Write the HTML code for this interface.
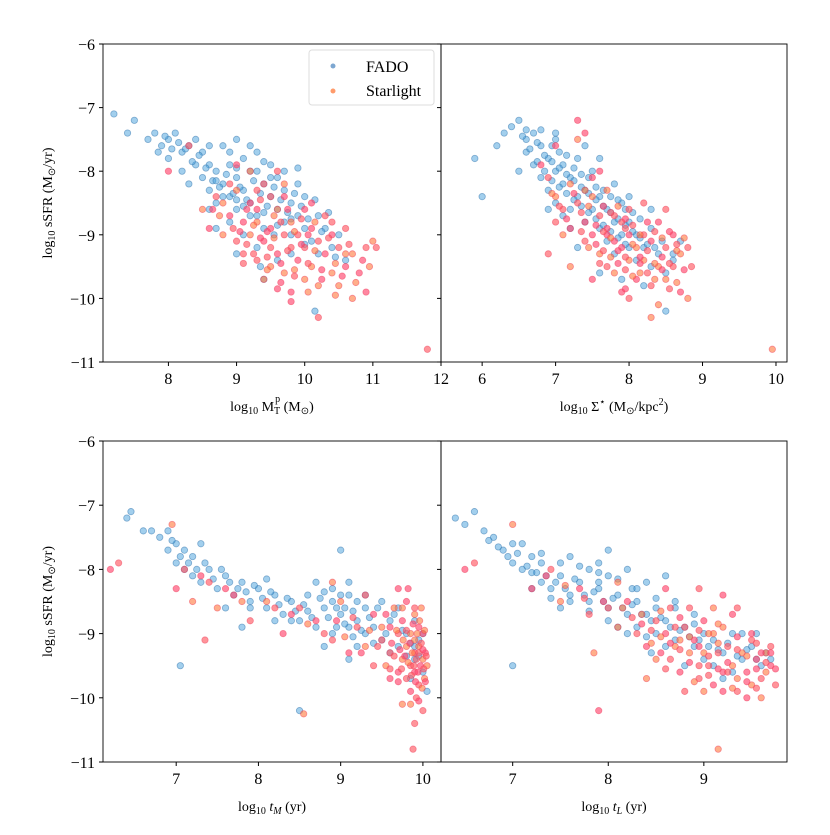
<!DOCTYPE html>
<html><head><meta charset="utf-8"><style>
body{margin:0;background:#fff;}
svg text{font-family:"Liberation Serif",serif;fill:#000;}
</style></head><body>
<svg id="chart" width="830" height="830" viewBox="0 0 830 830" xmlns="http://www.w3.org/2000/svg"></svg>
<script>
const fadoMass=[[7.2,-7.1],[7.4,-7.4],[7.5,-7.2],[7.7,-7.5],[7.8,-7.4],[7.9,-7.6],[8.0,-7.5],[8.0,-7.8],[8.1,-7.4],[8.2,-7.7],[8.2,-8.0],[8.3,-7.6],[8.3,-8.2],[8.4,-7.9],[8.4,-7.5],[8.5,-8.1],[8.5,-7.7],[8.6,-8.3],[8.6,-7.9],[8.7,-8.0],[8.7,-8.5],[8.8,-7.6],[8.8,-8.2],[8.9,-8.4],[8.9,-7.9],[9.0,-8.1],[9.0,-8.6],[9.0,-7.5],[9.1,-8.3],[9.1,-7.8],[9.2,-8.5],[9.2,-8.0],[9.3,-8.7],[9.3,-7.7],[9.4,-8.2],[9.4,-8.9],[9.5,-8.4],[9.5,-7.9],[9.6,-8.6],[9.6,-8.1],[9.7,-8.8],[9.7,-8.3],[9.8,-9.0],[9.8,-8.5],[9.9,-8.7],[9.9,-8.2],[10.0,-8.9],[10.0,-8.4],[10.1,-9.1],[10.2,-8.7],[10.2,-9.3],[10.3,-8.9],[10.4,-9.2],[10.5,-9.0],[10.6,-9.4],[10.15,-10.2],[9.4,-9.7],[8.9,-8.8],[9.1,-9.0],[8.7,-8.9],[9.3,-9.2],[9.6,-9.4],
[8.55,-7.95],[8.65,-8.15],[8.75,-8.25],[8.85,-8.05],[8.95,-8.35],[9.05,-8.25],[9.15,-8.45],[9.25,-8.15],[9.35,-8.35],[9.45,-8.55],[9.55,-8.25],[9.65,-8.45],[9.75,-8.65],[9.85,-8.35],[9.95,-8.55],[10.05,-8.75],[10.15,-8.45],[10.25,-8.95],[10.35,-8.65],[8.45,-7.75],[8.35,-7.85],[8.25,-7.65],[8.15,-7.55],[8.05,-7.65],[7.95,-7.45],[7.85,-7.7],[8.6,-7.6],[8.9,-7.7],[9.2,-7.6],[9.4,-7.85],[9.7,-8.0],[9.0,-8.45],[9.2,-8.7],[9.4,-8.65],[9.6,-8.85],[9.8,-8.75],[9.3,-8.0],[9.5,-8.1],[8.8,-8.4],[9.1,-8.55],[8.7,-8.15],[9.0,-7.95],[9.55,-9.0],[10.0,-9.15],[10.45,-9.35],[8.6,-8.6],[9.8,-9.3],[9.35,-9.5],[9.0,-9.3],[9.9,-7.95]];
const starMass=[[8.0,-8.0],[8.3,-7.6],[8.5,-8.6],[8.6,-8.9],[8.7,-8.4],[8.8,-9.0],[8.9,-8.7],[9.0,-9.1],[9.0,-8.3],[9.1,-8.8],[9.1,-9.3],[9.2,-9.0],[9.2,-8.5],[9.3,-9.4],[9.3,-8.8],[9.4,-9.1],[9.4,-8.2],[9.5,-9.5],[9.5,-8.9],[9.5,-9.2],[9.6,-8.6],[9.6,-9.3],[9.7,-9.0],[9.7,-9.6],[9.7,-8.4],[9.8,-9.2],[9.8,-8.8],[9.9,-9.4],[9.9,-9.0],[10.0,-9.7],[10.0,-8.6],[10.0,-9.2],[10.1,-9.5],[10.1,-8.9],[10.2,-9.1],[10.2,-9.8],[10.3,-9.3],[10.3,-8.7],[10.4,-9.6],[10.4,-9.0],[10.5,-9.2],[10.5,-9.8],[10.6,-9.5],[10.6,-8.9],[10.7,-9.3],[10.8,-9.6],[10.9,-9.2],[11.0,-9.1],[10.9,-9.9],[10.2,-10.3],[9.2,-8.0],[9.0,-7.9],[8.9,-8.2],[9.4,-9.7],[9.8,-9.9],[9.6,-8.0],[8.8,-8.5],[9.3,-8.6],[11.8,-10.8],[10.7,-10.0],
[9.05,-8.95],[9.15,-9.15],[9.25,-8.85],[9.35,-9.05],[9.45,-9.35],[9.55,-9.05],[9.65,-9.45],[9.75,-9.25],[9.85,-9.55],[9.95,-9.15],[10.05,-9.45],[10.15,-9.25],[10.25,-9.55],[10.35,-9.05],[10.45,-9.45],[10.55,-9.65],[10.65,-9.15],[10.75,-9.75],[9.15,-8.6],[9.35,-8.45],[9.55,-8.7],[9.75,-8.6],[9.95,-8.75],[10.15,-8.8],[9.45,-8.95],[9.65,-8.8],[9.85,-8.95],[10.05,-9.0],[9.25,-9.3],[9.45,-9.55],[9.65,-9.75],[9.85,-9.65],[10.05,-9.9],[10.25,-9.7],[8.95,-8.9],[8.75,-8.7],[8.65,-8.6],[9.1,-9.45],[10.45,-9.95],[10.85,-9.4],[11.05,-9.2],[10.95,-9.5],[9.6,-9.85],[9.3,-8.3],[9.7,-8.2],[10.1,-8.5],[10.4,-8.8],[10.6,-9.3],[9.8,-10.05],[9.5,-8.4]];
const fadoSigma=[[5.9,-7.8],[6.2,-7.6],[6.0,-8.4],[6.3,-7.4],[6.4,-7.3],[6.5,-7.2],[6.6,-7.7],[6.6,-7.5],[6.7,-7.9],[6.7,-7.4],[6.8,-8.1],[6.8,-7.6],[6.9,-8.3],[6.9,-7.8],[7.0,-8.0],[7.0,-8.5],[7.0,-7.5],[7.1,-8.2],[7.1,-7.9],[7.2,-8.6],[7.2,-8.1],[7.3,-8.4],[7.3,-7.8],[7.4,-8.8],[7.4,-8.3],[7.5,-8.6],[7.5,-8.0],[7.6,-8.9],[7.6,-8.4],[7.7,-9.1],[7.7,-8.6],[7.8,-8.8],[7.8,-9.3],[7.9,-9.0],[7.9,-8.5],[8.0,-9.2],[8.0,-8.8],[8.1,-9.4],[8.1,-9.0],[8.2,-9.2],[8.3,-9.5],[8.3,-8.9],[8.4,-9.3],[8.5,-9.6],[8.6,-9.4],[8.5,-10.2],[7.6,-9.6],[7.2,-8.9],[6.9,-8.6],[7.4,-7.6],[7.6,-7.8],[8.0,-8.4],[8.7,-9.1],[7.1,-8.7],[7.9,-9.7],[8.3,-8.6],[6.5,-8.0],[7.3,-9.2],[7.8,-8.2],[8.2,-9.8],
[6.55,-7.45],[6.65,-7.65],[6.75,-7.55],[6.85,-7.75],[6.95,-7.85],[7.05,-7.95],[7.15,-8.05],[7.25,-8.15],[7.35,-8.25],[7.45,-8.35],[7.55,-8.45],[7.65,-8.55],[7.75,-8.65],[7.85,-8.75],[7.95,-8.85],[8.05,-8.95],[8.15,-9.05],[8.25,-9.15],[6.75,-7.85],[6.85,-8.0],[6.95,-8.15],[7.05,-8.25],[7.15,-8.35],[7.25,-8.45],[7.35,-8.55],[7.45,-8.65],[7.55,-8.75],[7.65,-8.85],[7.75,-8.95],[7.85,-9.05],[7.95,-9.15],[6.95,-7.6],[7.05,-7.7],[7.15,-7.75],[7.25,-7.95],[7.35,-8.05],[7.45,-8.1],[7.55,-8.25],[7.65,-8.3],[7.75,-8.4],[7.85,-8.45],[7.95,-8.6],[8.05,-8.65],[8.15,-8.75],[6.6,-7.35],[6.8,-7.35],[7.0,-7.4],[8.35,-9.2],[8.45,-9.1],[8.6,-9.3]];
const starSigma=[[6.8,-7.9],[6.9,-8.1],[7.0,-8.4],[7.0,-7.6],[7.1,-8.6],[7.2,-8.2],[7.2,-8.9],[7.3,-8.5],[7.3,-7.5],[7.4,-8.8],[7.4,-9.1],[7.5,-8.4],[7.5,-9.0],[7.6,-8.7],[7.6,-9.3],[7.7,-8.9],[7.7,-9.5],[7.7,-8.3],[7.8,-9.1],[7.8,-8.7],[7.8,-9.6],[7.9,-9.2],[7.9,-8.8],[8.0,-9.4],[8.0,-9.0],[8.0,-8.6],[8.1,-9.2],[8.1,-9.7],[8.2,-9.0],[8.2,-9.4],[8.3,-9.1],[8.3,-9.8],[8.4,-9.5],[8.4,-8.8],[8.5,-9.2],[8.5,-9.7],[8.6,-9.0],[8.6,-9.5],[8.7,-9.3],[8.7,-9.9],[8.8,-9.2],[8.8,-10.0],[7.5,-9.7],[6.9,-9.3],[7.2,-9.5],[7.4,-7.4],[8.0,-10.0],[8.3,-10.3],[7.6,-8.0],[8.2,-8.5],[7.1,-9.0],[7.9,-9.9],[8.5,-8.6],[9.95,-10.8],[7.3,-7.2],[7.0,-8.8],[8.4,-10.1],[7.7,-9.0],[7.95,-8.9],[8.15,-9.6],
[7.25,-8.35],[7.35,-8.65],[7.45,-8.55],[7.55,-8.85],[7.65,-8.95],[7.75,-9.05],[7.85,-9.25],[7.95,-9.35],[8.05,-9.15],[8.15,-9.35],[8.25,-9.25],[8.35,-9.45],[8.45,-9.35],[8.55,-9.45],[8.65,-9.25],[7.55,-9.15],[7.65,-9.25],[7.75,-9.35],[7.85,-9.45],[7.95,-9.55],[8.05,-9.65],[8.15,-9.45],[8.25,-9.6],[8.35,-9.7],[8.45,-9.55],[7.35,-8.95],[7.45,-9.2],[7.15,-8.75],[7.05,-8.55],[6.95,-8.35],[7.65,-8.55],[7.75,-8.65],[7.85,-8.55],[7.95,-8.75],[8.05,-8.85],[8.15,-9.0],[8.25,-8.8],[8.35,-8.95],[8.45,-9.05],[8.55,-8.95],[8.65,-9.15],[8.75,-9.05],[8.75,-9.55],[8.55,-9.85],[8.65,-9.75],[7.95,-9.85],[7.6,-9.45],[7.4,-8.3],[7.5,-8.1],[8.85,-9.5]];
const fadoTM=[[6.4,-7.2],[6.45,-7.1],[6.6,-7.4],[6.7,-7.4],[6.8,-7.5],[6.9,-7.7],[6.9,-7.4],[7.0,-7.9],[7.0,-7.6],[7.1,-8.0],[7.1,-7.7],[7.2,-8.1],[7.2,-7.8],[7.3,-8.2],[7.4,-8.0],[7.5,-8.3],[7.6,-8.1],[7.7,-8.4],[7.8,-8.2],[7.9,-8.5],[8.0,-8.3],[8.1,-8.6],[8.2,-8.4],[8.3,-8.7],[8.4,-8.5],[8.5,-8.8],[8.6,-8.4],[8.7,-8.9],[8.8,-8.6],[8.9,-8.5],[8.9,-9.0],[9.0,-8.7],[9.0,-7.7],[9.1,-8.9],[9.1,-8.4],[9.2,-8.8],[9.2,-9.2],[9.3,-8.6],[9.3,-9.0],[9.4,-8.9],[9.5,-9.1],[9.6,-8.8],[9.7,-9.2],[9.8,-9.0],[9.9,-9.4],[9.95,-9.1],[10.0,-9.6],[7.05,-9.5],[8.5,-10.2],[7.8,-8.9],[8.7,-8.2],[9.1,-9.4],[8.8,-9.2],[7.6,-8.6],[8.2,-8.8],[9.5,-8.5],[9.85,-9.7],[9.9,-8.8],[10.05,-9.9],[7.3,-7.6],
[6.95,-7.55],[7.05,-7.8],[7.15,-7.9],[7.25,-8.0],[7.35,-7.9],[7.45,-8.15],[7.55,-8.0],[7.65,-8.2],[7.75,-8.3],[7.85,-8.35],[7.95,-8.25],[8.05,-8.45],[8.15,-8.35],[8.25,-8.55],[8.35,-8.45],[8.45,-8.65],[8.55,-8.55],[8.65,-8.75],[8.75,-8.45],[8.85,-8.75],[8.95,-8.6],[9.05,-8.85],[9.15,-8.65],[9.25,-8.95],[9.35,-8.75],[9.45,-8.6],[9.55,-9.0],[9.65,-8.7],[9.75,-8.95],[9.85,-9.15],[8.9,-8.3],[9.0,-8.4],[9.1,-8.2],[9.2,-8.5],[9.05,-8.6],[8.95,-8.9],[9.15,-9.05],[8.8,-8.35],[8.6,-8.65],[8.4,-8.8],[9.3,-8.4],[9.4,-9.15],[9.6,-9.3],[9.7,-8.6],[9.9,-9.2],[9.95,-9.35],[10.0,-9.0],[9.8,-9.35],[7.9,-8.6],[8.1,-8.15]];
const starTM=[[6.2,-8.0],[6.3,-7.9],[6.95,-7.3],[7.0,-8.3],[7.1,-8.0],[7.2,-8.5],[7.3,-8.1],[7.35,-9.1],[7.5,-8.6],[7.7,-8.4],[7.9,-8.8],[8.1,-8.5],[8.3,-9.0],[8.5,-8.6],[8.55,-10.25],[8.7,-8.8],[8.9,-9.1],[9.0,-8.5],[9.1,-9.3],[9.2,-8.9],[9.3,-9.2],[9.4,-8.7],[9.5,-9.1],[9.55,-9.5],[9.6,-8.9],[9.6,-9.3],[9.65,-8.6],[9.7,-9.6],[9.7,-9.0],[9.75,-9.4],[9.75,-8.8],[9.8,-9.7],[9.8,-9.2],[9.8,-8.5],[9.85,-9.5],[9.85,-9.0],[9.85,-9.9],[9.9,-9.3],[9.9,-8.7],[9.9,-9.6],[9.92,-10.0],[9.95,-9.2],[9.95,-8.9],[9.95,-9.8],[10.0,-9.4],[10.0,-9.0],[10.0,-10.2],[10.02,-9.7],[10.03,-9.3],[9.88,-10.8],[9.75,-10.1],[9.6,-9.7],[9.4,-9.5],[8.9,-8.2],[9.82,-8.3],[9.9,-10.4],[9.98,-8.6],[9.7,-8.3],[9.3,-8.4],[10.05,-9.5],
[9.62,-9.15],[9.65,-9.35],[9.68,-8.95],[9.72,-9.25],[9.74,-9.55],[9.76,-9.1],[9.78,-9.35],[9.8,-8.95],[9.82,-9.45],[9.84,-9.15],[9.86,-9.65],[9.87,-9.3],[9.88,-8.85],[9.89,-9.5],[9.9,-9.1],[9.91,-9.75],[9.92,-9.4],[9.93,-9.0],[9.94,-9.6],[9.95,-9.3],[9.96,-8.8],[9.97,-9.5],[9.98,-9.15],[9.99,-9.85],[10.0,-9.25],[10.01,-9.55],[10.02,-8.95],[10.03,-9.75],[10.04,-9.35],[9.5,-8.9],[9.55,-8.7],[9.45,-9.2],[9.35,-8.95],[9.25,-9.3],[9.15,-8.75],[9.05,-9.05],[8.95,-8.8],[8.8,-9.0],[8.6,-8.85],[8.4,-8.7],[8.2,-8.6],[7.8,-8.5],[7.6,-8.3],[7.4,-8.2],[9.85,-10.1],[9.95,-10.05],[9.9,-8.6],[9.75,-8.6],[9.7,-9.75],[9.6,-9.55]];
const fadoTL=[[6.4,-7.2],[6.6,-7.1],[6.7,-7.4],[6.8,-7.5],[6.9,-7.7],[7.0,-7.6],[7.0,-7.9],[7.1,-8.0],[7.2,-7.8],[7.3,-8.2],[7.3,-7.9],[7.4,-8.3],[7.5,-8.1],[7.6,-8.4],[7.6,-7.8],[7.7,-8.2],[7.8,-8.5],[7.9,-8.3],[7.9,-7.9],[8.0,-8.6],[8.0,-8.1],[8.1,-8.4],[8.2,-8.7],[8.2,-8.0],[8.3,-8.5],[8.3,-8.9],[8.4,-8.7],[8.4,-8.2],[8.5,-9.0],[8.5,-8.6],[8.6,-8.8],[8.7,-9.1],[8.7,-8.5],[8.8,-8.9],[8.9,-9.2],[8.9,-8.7],[9.0,-9.0],[9.0,-9.4],[9.1,-9.1],[9.2,-9.3],[9.3,-9.0],[9.4,-9.4],[9.5,-9.2],[9.6,-9.5],[9.7,-9.4],[7.0,-9.5],[7.9,-8.2],[8.6,-8.1],[8.1,-8.9],[8.8,-9.5],[9.2,-9.7],[7.5,-8.6],[8.25,-8.3],[9.3,-9.6],[8.0,-7.7],[7.2,-8.3],[8.45,-9.3],[9.55,-9.0],[6.5,-7.3],[7.8,-8.0],
[6.75,-7.55],[6.85,-7.65],[6.95,-7.8],[7.05,-7.75],[7.15,-7.95],[7.25,-8.05],[7.35,-8.1],[7.45,-8.2],[7.55,-8.3],[7.65,-8.15],[7.75,-8.4],[7.85,-8.35],[7.95,-8.5],[8.05,-8.45],[8.15,-8.6],[8.25,-8.55],[8.35,-8.7],[8.45,-8.8],[8.55,-8.75],[8.65,-8.9],[8.75,-8.95],[8.85,-9.05],[8.95,-9.1],[9.05,-9.2],[9.15,-9.25],[9.25,-9.15],[9.35,-9.35],[9.45,-9.25],[9.55,-9.4],[9.65,-9.3],[7.1,-7.6],[7.3,-7.75],[7.5,-7.9],[7.7,-7.95],[7.9,-8.05],[8.1,-8.15],[8.3,-8.3],[8.5,-8.45],[8.7,-8.6],[8.9,-8.85],[7.2,-8.05],[7.4,-8.45],[7.6,-8.5],[7.8,-8.65],[8.0,-8.8],[8.2,-9.0],[8.4,-9.05],[8.6,-9.2],[9.1,-9.5],[9.4,-9.0]];
const starTL=[[6.5,-8.0],[6.6,-7.9],[7.0,-7.3],[7.2,-8.3],[7.4,-8.0],[7.5,-8.5],[7.7,-8.3],[7.8,-8.7],[7.85,-9.3],[7.9,-10.2],[8.0,-8.6],[8.1,-8.9],[8.2,-8.5],[8.3,-9.0],[8.35,-8.7],[8.4,-9.2],[8.5,-8.8],[8.5,-9.4],[8.6,-9.0],[8.65,-8.6],[8.7,-9.2],[8.75,-9.6],[8.8,-8.9],[8.85,-9.3],[8.9,-9.1],[8.95,-9.7],[9.0,-9.3],[9.0,-8.8],[9.05,-9.5],[9.1,-9.0],[9.1,-9.8],[9.15,-9.3],[9.2,-8.9],[9.2,-9.6],[9.25,-9.2],[9.3,-9.5],[9.3,-8.7],[9.35,-9.9],[9.4,-9.3],[9.45,-9.6],[9.5,-9.1],[9.5,-9.8],[9.55,-9.4],[9.6,-9.7],[9.65,-9.3],[9.7,-9.5],[9.75,-9.8],[9.6,-10.0],[9.2,-8.4],[8.95,-8.3],[9.15,-10.8],[9.45,-10.0],[8.8,-9.9],[8.1,-8.2],[8.6,-8.3],[9.35,-8.6],[8.4,-9.7],[9.7,-9.3],[8.7,-8.9],[9.0,-9.9],
[8.35,-8.85],[8.45,-8.95],[8.55,-9.05],[8.65,-9.15],[8.75,-9.25],[8.85,-9.05],[8.95,-9.2],[9.05,-9.35],[9.15,-9.15],[9.25,-9.45],[9.35,-9.25],[9.45,-9.35],[9.55,-9.55],[9.65,-9.45],[8.45,-9.15],[8.55,-9.3],[8.65,-9.4],[8.75,-9.1],[8.85,-9.45],[8.95,-9.5],[9.05,-9.0],[9.15,-9.55],[9.25,-9.6],[9.35,-9.7],[9.45,-9.75],[9.55,-9.85],[8.55,-8.65],[8.75,-8.75],[8.95,-8.95],[9.15,-8.85],[9.35,-9.05],[9.55,-9.15],[9.65,-9.6],[9.75,-9.55],[8.25,-8.75],[8.15,-8.6],[7.95,-8.5],[7.75,-8.45],[7.55,-8.25],[7.35,-8.1],[9.05,-9.65],[9.3,-9.85],[9.6,-9.3],[8.85,-8.6],[9.1,-8.6],[9.5,-9.0],[8.6,-9.55],[8.9,-9.75],[9.2,-9.9],[9.7,-9.2]];
const yTicks=[-6,-7,-8,-9,-10,-11];
const xTicksMass=[8,9,10,11,12];
const xTicksSigma=[6,7,8,9,10];
const xTicksTM=[7,8,9,10];
const xTicksTL=[7,8,9];

const NS='http://www.w3.org/2000/svg';
const svg=document.getElementById('chart');
function mk(tag,attrs,parent){const e=document.createElementNS(NS,tag);for(const k in attrs)e.setAttribute(k,attrs[k]);(parent||svg).appendChild(e);return e;}

const panels=[
 {name:'mass',x0:103,x1:441,y0:44,y1:362,xmin:7.04,xmax:12.0,fado:fadoMass,star:starMass,ticks:xTicksMass,yl:true,label:'log<tspan font-size="10" dy="3">10</tspan><tspan dy="-3"> M</tspan><tspan font-size="10" dy="3">T</tspan><tspan font-size="10" dy="-12" dx="-5">p</tspan><tspan dy="9"> (M</tspan><tspan font-size="10" dy="3">⊙</tspan><tspan dy="-3">)</tspan>'},
 {name:'sigma',x0:441,x1:787,y0:44,y1:362,xmin:5.44,xmax:10.15,fado:fadoSigma,star:starSigma,ticks:xTicksSigma,yl:false,label:'log<tspan font-size="10" dy="3">10</tspan><tspan dy="-3"> Σ</tspan><tspan font-size="10" dy="-6">⋆</tspan><tspan dy="6"> (M</tspan><tspan font-size="10" dy="3">⊙</tspan><tspan dy="-3">/kpc</tspan><tspan font-size="10" dy="-6">2</tspan><tspan dy="6">)</tspan>'},
 {name:'tm',x0:103,x1:441,y0:441,y1:762,xmin:6.11,xmax:10.22,fado:fadoTM,star:starTM,ticks:xTicksTM,yl:true,label:'log<tspan font-size="10" dy="3">10</tspan><tspan dy="-3" font-style="italic"> t</tspan><tspan font-size="10" dy="3" font-style="italic">M</tspan><tspan dy="-3"> (yr)</tspan>'},
 {name:'tl',x0:441,x1:787,y0:441,y1:762,xmin:6.25,xmax:9.87,fado:fadoTL,star:starTL,ticks:xTicksTL,yl:false,label:'log<tspan font-size="10" dy="3">10</tspan><tspan dy="-3" font-style="italic"> t</tspan><tspan font-size="10" dy="3" font-style="italic">L</tspan><tspan dy="-3"> (yr)</tspan>'}
];
const starCols=['rgba(255,70,110,0.65)','rgba(255,90,100,0.65)','rgba(255,120,60,0.6)'];
panels.forEach(p=>{
 const g=mk('g',{});
 
 
 const sx=v=>p.x0+(v-p.xmin)/(p.xmax-p.xmin)*(p.x1-p.x0);
 const sy=v=>p.y0+(-6-v)/5*(p.y1-p.y0);
 const clipId='clip-'+p.name;
 const cp=mk('clipPath',{id:clipId},g);mk('rect',{x:p.x0,y:p.y0,width:p.x1-p.x0,height:p.y1-p.y0},cp);
 const pts=mk('g',{'clip-path':'url(#'+clipId+')'},g);
 p.fado.forEach(d=>{const c=mk('circle',{cx:sx(d[0]),cy:sy(d[1]),r:3.2,fill:'rgba(70,160,220,0.5)',stroke:'rgba(40,110,170,0.5)','stroke-width':0.8},pts);
  
  });
 p.star.forEach((d,i)=>{const c=mk('circle',{cx:sx(d[0]),cy:sy(d[1]),r:3.2,fill:starCols[i%3],stroke:'rgba(240,60,90,0.5)','stroke-width':0.8},pts);
  
  });
 const fr=mk('rect',{x:p.x0,y:p.y0,width:p.x1-p.x0,height:p.y1-p.y0,fill:'none',stroke:'#000','stroke-width':0.9},g);
 
 
 p.ticks.forEach(t=>{const x=sx(t);mk('line',{x1:x,x2:x,y1:p.y1,y2:p.y1+4,stroke:'#000'},g);
  const tx=mk('text',{x:x,y:p.y1+22,'text-anchor':'middle','font-size':16},g);tx.textContent=t;
  
  });
 yTicks.forEach(t=>{const y=sy(t);mk('line',{x1:p.x0-4,x2:p.x0,y1:y,y2:y,stroke:'#000'},g);
  if(p.yl){const tx=mk('text',{x:p.x0-8,y:y+6,'text-anchor':'end','font-size':16},g);tx.textContent='−'+(-t);
  
  }});
 const xl=mk('text',{x:(p.x0+p.x1)/2,y:p.y1+49,'text-anchor':'middle','font-size':14},g);xl.innerHTML=p.label;
 
 
 if(p.yl){const yl=mk('text',{x:0,y:0,'text-anchor':'middle','font-size':14,transform:'translate(52,'+((p.y0+p.y1)/2)+') rotate(-90)'},g);
  yl.innerHTML='log<tspan font-size="10" dy="3">10</tspan><tspan dy="-3"> sSFR (M</tspan><tspan font-size="10" dy="3">⊙</tspan><tspan dy="-3">/yr)</tspan>';
  
  }
});
const lg=mk('g',{});


mk('rect',{x:309,y:50,width:125,height:55,rx:3,fill:'rgba(255,255,255,0.85)',stroke:'#ddd'},lg);
const e1=mk('g',{},lg);


mk('circle',{cx:333,cy:66,r:2.5,fill:'rgba(70,130,190,0.7)'},e1);
const t1=mk('text',{x:366,y:72,'font-size':16},e1);t1.textContent='FADO';
const e2=mk('g',{},lg);


mk('circle',{cx:333,cy:91,r:2.5,fill:'rgba(255,130,70,0.8)'},e2);
const t2=mk('text',{x:366,y:96,'font-size':16},e2);t2.textContent='Starlight';
</script>
</body></html>
